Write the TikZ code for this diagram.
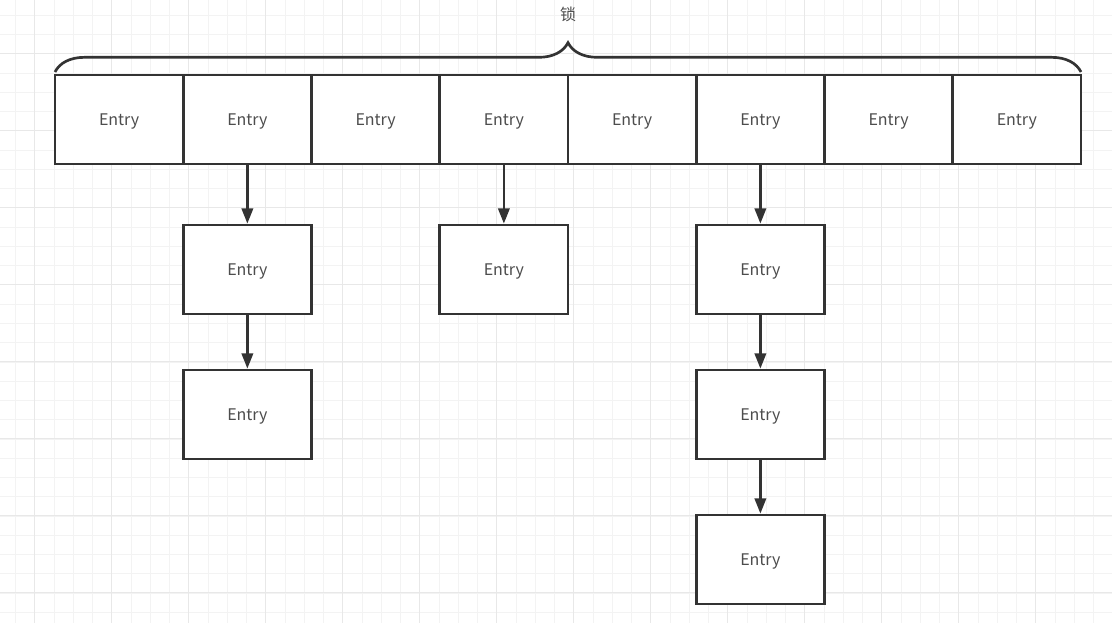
\documentclass[tikz,border=0pt]{standalone}
\usepackage{fontspec}
\setmainfont{Noto Sans CJK SC}
\usetikzlibrary{arrows.meta,decorations.pathreplacing,positioning}
\definecolor{boxgrey}{HTML}{333333}
\definecolor{labelgrey}{HTML}{4D4D4D}
\definecolor{gridminor}{HTML}{F3F3F3}
\definecolor{gridmajor}{HTML}{E8E8E8}
\tikzset{
  entrybox/.style={draw=boxgrey, line width=2pt, fill=white,
    minimum width=96.2pt, minimum height=66.75pt, inner sep=0pt,
    font=\fontsize{12}{14}\selectfont, text=labelgrey, text depth=0pt},
  nextarrow/.style={-{Triangle[length=11.5pt,width=8.5pt]}, draw=boxgrey, line width=2pt},
}

\begin{document}
\begin{tikzpicture}[x=0.75pt, y=-0.75pt, node distance=40pt]
  % Canvas and grid
  \fill[white] (0,0) rectangle (1112,623);
  \useasboundingbox (0,0) rectangle (1112,623);
  \foreach \gx in {0,...,57}
    \draw[gridminor, line width=0.75pt] ({15.5+19.25*\gx},0) -- ++(0,623);
  \foreach \gy in {0,...,32}
    \draw[gridminor, line width=0.75pt] (0,{15.5+19.25*\gy}) -- ++(1112,0);
  \foreach \gx in {0,...,14}
    \draw[gridmajor, line width=0.75pt] ({34.5+77*\gx},0) -- ++(0,623);
  \foreach \gy in {0,...,7}
    \draw[gridmajor, line width=0.75pt] (0,{53.5+77*\gy}) -- ++(1112,0);
  % Lock brace
  \draw[boxgrey, line width=2pt, decorate,
    decoration={brace, amplitude=22pt, aspect=0.5}] (55,72) -- (1081,72)
    node[midway, yshift=43pt, font=\fontsize{12}{14}\selectfont, text=labelgrey] (lock) {锁};
  % Table row
  \foreach \i in {1,...,8}
    \node[entrybox] (e\i) at ({55+128.25*(\i-0.5)},119.5) {Entry};
  % Chains
  \node[entrybox, below=43.75pt of e2] (c2a) {Entry};
  \node[entrybox, below=of c2a] (c2b) {Entry};
  \node[entrybox, below=43.75pt of e4] (c4a) {Entry};
  \node[entrybox, below=43.75pt of e6] (c6a) {Entry};
  \node[entrybox, below=of c6a] (c6b) {Entry};
  \node[entrybox, below=of c6b] (c6c) {Entry};
  \draw[nextarrow] (e2) -- (c2a);
  \draw[nextarrow] (c2a) -- (c2b);
  \draw[nextarrow] (e4) -- (c4a);
  \draw[nextarrow] (e6) -- (c6a);
  \draw[nextarrow] (c6a) -- (c6b);
  \draw[nextarrow] (c6b) -- (c6c);
\end{tikzpicture}
\end{document}
